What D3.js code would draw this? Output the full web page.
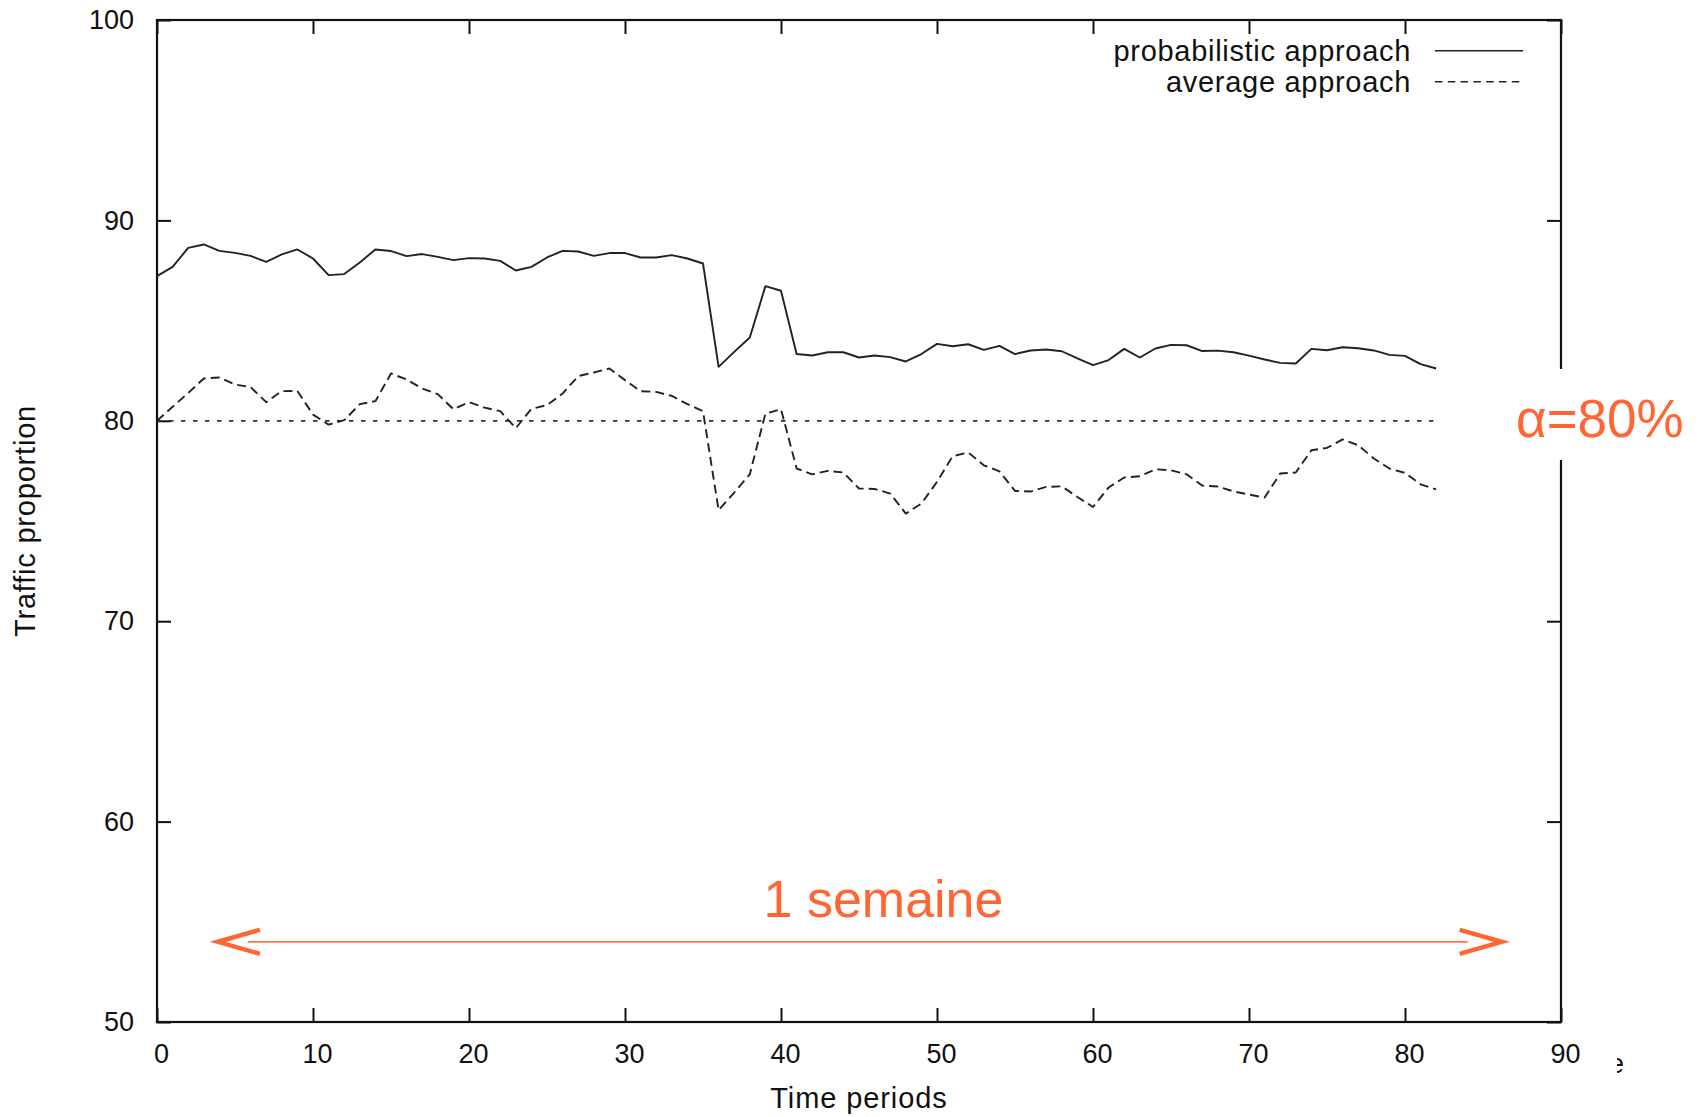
<!DOCTYPE html>
<html>
<head>
<meta charset="utf-8">
<script src="https://cdn.jsdelivr.net/npm/d3@7/dist/d3.min.js"></script>
<style>
  html, body { margin: 0; padding: 0; background: #fff; }
  svg { display: block; font-family: "Liberation Sans", Arial, Helvetica, sans-serif; }
</style>
</head>
<body>
<svg id="chart" width="1704" height="1117"></svg>
<script>
// ---- data ----
const periods = d3.range(0, 83);
const probabilistic = [
  87.22, 87.68, 88.63, 88.80, 88.48, 88.38, 88.23, 87.93, 88.30, 88.55,
  88.10, 87.27, 87.32, 87.90, 88.55, 88.47, 88.22, 88.32, 88.18, 88.02,
  88.12, 88.10, 87.98, 87.50, 87.68, 88.15, 88.48, 88.45, 88.23, 88.37,
  88.37, 88.15, 88.15, 88.27, 88.10, 87.85, 82.69, 83.44, 84.16, 86.72,
  86.49, 83.33, 83.26, 83.42, 83.42, 83.16, 83.26, 83.18, 82.96, 83.33,
  83.84, 83.72, 83.82, 83.54, 83.74, 83.33, 83.51, 83.56, 83.47, 83.11,
  82.78, 83.03, 83.59, 83.16, 83.61, 83.79, 83.77, 83.48, 83.50, 83.42,
  83.25, 83.06, 82.89, 82.86, 83.59, 83.52, 83.67, 83.62, 83.51, 83.29,
  83.24, 82.83, 82.61
];
const average = [
  80.00, 80.70, 81.39, 82.11, 82.16, 81.81, 81.68, 80.93, 81.48, 81.49,
  80.31, 79.81, 80.03, 80.83, 80.98, 82.36, 82.06, 81.61, 81.33, 80.58,
  80.93, 80.66, 80.48, 79.63, 80.60, 80.78, 81.36, 82.23, 82.41, 82.61,
  82.03, 81.48, 81.44, 81.24, 80.83, 80.48, 75.54, 76.42, 77.33, 80.36,
  80.58, 77.62, 77.33, 77.50, 77.42, 76.62, 76.60, 76.37, 75.37, 75.87,
  76.95, 78.23, 78.42, 77.78, 77.48, 76.50, 76.47, 76.70, 76.73, 76.20,
  75.70, 76.67, 77.17, 77.23, 77.58, 77.53, 77.33, 76.77, 76.72, 76.48,
  76.32, 76.17, 77.37, 77.42, 78.53, 78.65, 79.07, 78.78, 78.12, 77.62,
  77.40, 76.83, 76.58
];
const alphaLevel = 80;
const thresholdRange = [0, 82];
const xTicks = [0, 10, 20, 30, 40, 50, 60, 70, 80, 90];
const yTicks = [50, 60, 70, 80, 90, 100];
const seriesNames = ["probabilistic approach", "average approach"];
const xTitle = "Time periods";
const yTitle = "Traffic proportion";
const alphaLabel = "\u03B1=80%";
const weekLabel = "1 semaine";
const weekSpan = [3.9, 86.2];
const weekLevel = 54.0;

// ---- layout ----
const L = 157, R = 1561, T = 20, B = 1022;
const orange = "#FF6633";
const svg = d3.select("#chart");
const x = d3.scaleLinear().domain([0, 90]).range([L, R]);
const y = d3.scaleLinear().domain([50, 100]).range([B, T]);

// axes (ticks inward, mirrored)
const fontTick = 27;
const gB = svg.append("g").attr("transform", `translate(0,${B})`)
  .call(d3.axisBottom(x).tickValues(xTicks).tickSize(-14).tickSizeOuter(0).tickPadding(22).tickFormat(d3.format("d")));
gB.selectAll("text").attr("dx", 4);
const gL = svg.append("g").attr("transform", `translate(${L},0)`)
  .call(d3.axisLeft(y).tickValues(yTicks).tickSize(-14).tickSizeOuter(0).tickPadding(23).tickFormat(d3.format("d")));
const gT = svg.append("g").attr("transform", `translate(0,${T})`)
  .call(d3.axisTop(x).tickValues(xTicks).tickSize(-14).tickSizeOuter(0).tickFormat(""));
const gR = svg.append("g").attr("transform", `translate(${R},0)`)
  .call(d3.axisRight(y).tickValues(yTicks).tickSize(-14).tickSizeOuter(0).tickFormat(""));
[gB, gL, gT, gR].forEach(g => {
  g.select(".domain").remove();
  g.selectAll(".tick line").attr("stroke", "#111").attr("stroke-width", 2);
  g.selectAll("text").attr("font-size", fontTick).attr("fill", "#111")
    .attr("font-family", "'Liberation Sans', Arial, sans-serif");
});

// frame
svg.append("rect").attr("x", L).attr("y", T).attr("width", R - L).attr("height", B - T)
  .attr("fill", "none").attr("stroke", "#111").attr("stroke-width", 2.2);

// threshold
svg.append("line")
  .attr("x1", x(thresholdRange[0])).attr("x2", x(thresholdRange[1]))
  .attr("y1", y(alphaLevel)).attr("y2", y(alphaLevel))
  .attr("stroke", "#333").attr("stroke-width", 1.7).attr("stroke-dasharray", "4.5,7.5");

// series
const line = d3.line().x((d, i) => x(periods[i])).y(d => y(d));
svg.append("path").datum(probabilistic).attr("d", line)
  .attr("fill", "none").attr("stroke", "#222").attr("stroke-width", 1.9).attr("stroke-linejoin", "round");
svg.append("path").datum(average).attr("d", line)
  .attr("fill", "none").attr("stroke", "#222").attr("stroke-width", 1.9)
  .attr("stroke-dasharray", "9,5").attr("stroke-linejoin", "round");

// legend
const legend = svg.append("g");
seriesNames.forEach((name, i) => {
  const yy = 60.7 + i * 31;
  legend.append("text").attr("x", 1411).attr("y", yy).attr("text-anchor", "end")
    .attr("font-size", 29).attr("letter-spacing", "0.7px").attr("fill", "#111").text(name);
  legend.append("line").attr("x1", 1435).attr("x2", 1523).attr("y1", yy - 10).attr("y2", yy - 10)
    .attr("stroke", "#222").attr("stroke-width", 1.6)
    .attr("stroke-dasharray", i === 0 ? null : "7.5,5.3");
});

// axis titles
svg.append("text").attr("x", 859).attr("y", 1108).attr("text-anchor", "middle")
  .attr("font-size", 29).attr("letter-spacing", "0.9px").attr("fill", "#111").text(xTitle);
svg.append("text").attr("transform", `translate(35,521) rotate(-90)`).attr("text-anchor", "middle")
  .attr("font-size", 29).attr("letter-spacing", "0.8px").attr("fill", "#111").text(yTitle);

// clipped stray "e" at bottom-right
const clip = svg.append("clipPath").attr("id", "eclip");
clip.append("rect").attr("x", 1617).attr("y", 1040).attr("width", 30).attr("height", 40);
svg.append("text").attr("x", 1609).attr("y", 1073).attr("font-size", 27).attr("fill", "#111")
  .attr("clip-path", "url(#eclip)").text("e");

// alpha annotation (breaks the right axis)
svg.append("rect").attr("x", 1508).attr("y", 369).attr("width", 190).attr("height", 91).attr("fill", "#fff");
svg.append("text").attr("x", 1516).attr("y", 436.7).attr("font-size", 53).attr("fill", orange).text(alphaLabel);

// 1 semaine annotation
const yw = y(weekLevel);
const x0 = x(weekSpan[0]), x1 = x(weekSpan[1]);
svg.append("line").attr("x1", x0 + 30).attr("x2", x1 - 34).attr("y1", yw).attr("y2", yw)
  .attr("stroke", orange).attr("stroke-width", 1.8).attr("stroke-opacity", 0.9);
svg.append("path").attr("d", `M${x0 + 42},${yw - 12} L${x0},${yw} L${x0 + 42},${yw + 12}`)
  .attr("fill", "none").attr("stroke", orange).attr("stroke-width", 4.5).attr("stroke-linejoin", "miter");
svg.append("path").attr("d", `M${x1 - 42},${yw - 12} L${x1},${yw} L${x1 - 42},${yw + 12}`)
  .attr("fill", "none").attr("stroke", orange).attr("stroke-width", 4.5).attr("stroke-linejoin", "miter");
svg.append("text").attr("x", (764 + 1003) / 2).attr("y", 917).attr("text-anchor", "middle")
  .attr("font-size", 52).attr("fill", orange).text(weekLabel);
</script>
</body>
</html>
